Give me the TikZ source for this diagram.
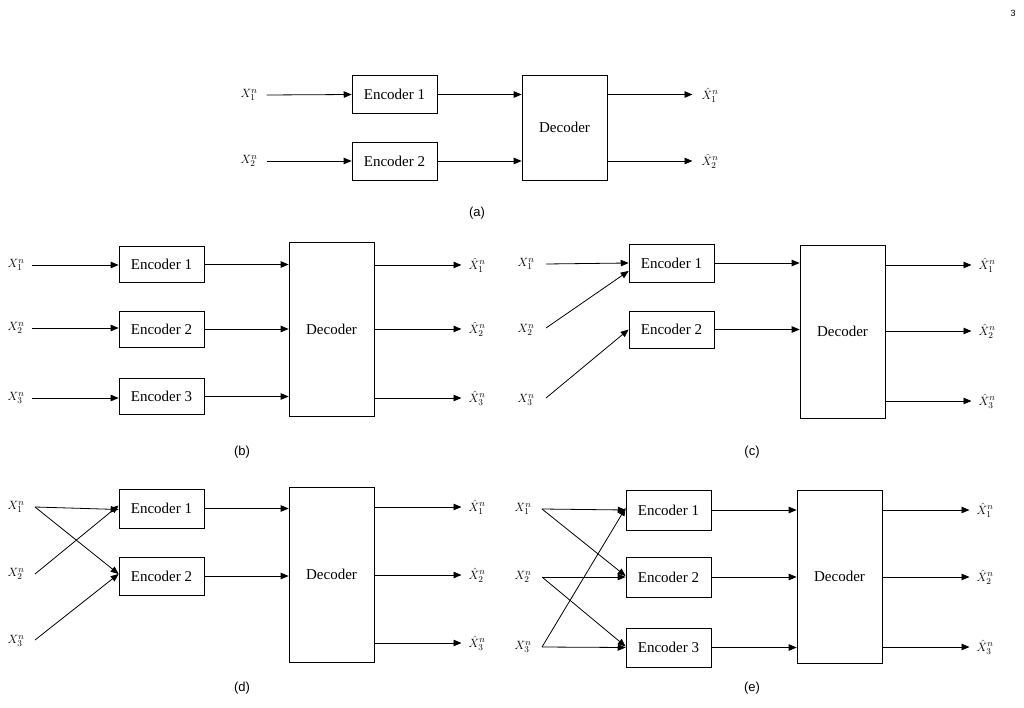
\documentclass[tikz,border=0pt]{standalone}
\usepackage{fontspec}
\setmainfont{Liberation Serif}
\setsansfont{Liberation Sans}
\usetikzlibrary{arrows}
\begin{document}
\begin{tikzpicture}[x=1pt,y=-1pt,>=triangle 45]
\tikzstyle{block}=[draw,thick,minimum width=85pt,minimum height=38pt,inner sep=0pt,font=\fontsize{15}{17}\selectfont]
\tikzstyle{dec}=[draw,thick,minimum width=85pt,inner sep=0pt,font=\fontsize{15}{17}\selectfont]
\tikzstyle{lab}=[inner sep=1pt,font=\fontsize{13}{15}\selectfont]
\tikzstyle{subcap}=[font=\sffamily\fontsize{13}{15}\selectfont]
\tikzstyle{conn}=[->,thick]
\useasboundingbox (0,0) rectangle (1024,708);
\node[font=\sffamily\fontsize{9}{10}\selectfont] (pg) at (1013,13) {3};
% (a)
\node[lab] (ax1) at (249,95) {$X_1^n$};
\node[lab] (ax2) at (249,161) {$X_2^n$};
\node[block] (ae1) at (394.5,94.5) {Encoder 1};
\node[block] (ae2) at (394.5,161) {Encoder 2};
\node[dec,minimum height=105pt] (ad) at (564.5,127.5) {Decoder};
\node[lab] (ay1) at (710,95) {$\hat{X}_1^n$};
\node[lab] (ay2) at (710,161) {$\hat{X}_2^n$};
\draw[conn] (ax1.east)+(8,0) -- (ae1.west);
\draw[conn] (ax2.east)+(8,0) -- (ae2.west);
\draw[conn] (ae1.east) -- (ae1.east -| ad.west);
\draw[conn] (ae2.east) -- (ae2.east -| ad.west);
\draw[conn] (ae1.east -| ad.east) -- ([xshift=-8pt]ae1.east -| ay1.west);
\draw[conn] (ae2.east -| ad.east) -- ([xshift=-8pt]ae2.east -| ay2.west);
\node[subcap] (acap) at (477,213) {(a)};
% (b)
\node[lab] (bx1) at (16,265) {$X_1^n$};
\node[lab] (bx2) at (16,328) {$X_2^n$};
\node[lab] (bx3) at (16,398) {$X_3^n$};
\node[block,minimum height=36pt] (be1) at (161.5,264.5) {Encoder 1};
\node[block,minimum height=36pt] (be2) at (161.5,329) {Encoder 2};
\node[block,minimum height=36pt] (be3) at (161.5,396.5) {Encoder 3};
\node[dec,minimum height=174pt] (bd) at (331.5,329) {Decoder};
\node[lab] (by1) at (477,265) {$\hat{X}_1^n$};
\node[lab] (by2) at (477,329) {$\hat{X}_2^n$};
\node[lab] (by3) at (477,398) {$\hat{X}_3^n$};
\foreach \i in {1,2,3} {
  \draw[conn] (bx\i.east)+(6,0) -- (bx\i.east -| be\i.west);
  \draw[conn] (be\i.east) -- (be\i.east -| bd.west);
  \draw[conn] (by\i.west -| bd.east) -- ([xshift=-6pt]by\i.west);
}
\node[subcap] (bcap) at (242,452) {(b)};
% (c)
\node[lab] (cx1) at (526,264) {$X_1^n$};
\node[lab] (cx2) at (526,330) {$X_2^n$};
\node[lab] (cx3) at (526,400) {$X_3^n$};
\node[block] (ce1) at (671.5,263) {Encoder 1};
\node[block,minimum height=37pt] (ce2) at (671.5,329.5) {Encoder 2};
\node[dec,minimum height=173pt] (cd) at (842.5,331.5) {Decoder};
\node[lab] (cy1) at (987,265) {$\hat{X}_1^n$};
\node[lab] (cy2) at (987,331) {$\hat{X}_2^n$};
\node[lab] (cy3) at (987,401) {$\hat{X}_3^n$};
\coordinate (cs1) at (546,264);
\coordinate (cs2) at (546,328);
\coordinate (cs3) at (546,398);
\draw[conn] (cs1) -- (ce1.west);
\draw[conn] (cs2) -- ([yshift=-8pt]ce1.west);
\draw[conn] (cs3) -- (ce2.west);
\draw[conn] (ce1.east) -- (ce1.east -| cd.west);
\draw[conn] (ce2.east) -- (ce2.east -| cd.west);
\foreach \i in {1,2,3}
  \draw[conn] (cy\i.west -| cd.east) -- ([xshift=-6pt]cy\i.west);
\node[subcap] (ccap) at (752,452) {(c)};
% (d)
\node[lab] (dx1) at (16,507) {$X_1^n$};
\node[lab] (dx2) at (16,574) {$X_2^n$};
\node[lab] (dx3) at (16,641) {$X_3^n$};
\node[block,minimum height=39pt] (de1) at (161.5,508.5) {Encoder 1};
\node[block] (de2) at (161.5,576) {Encoder 2};
\node[dec,minimum height=175pt] (dd) at (331.5,574.5) {Decoder};
\node[lab] (dy1) at (477,507) {$\hat{X}_1^n$};
\node[lab] (dy2) at (477,575) {$\hat{X}_2^n$};
\node[lab] (dy3) at (477,643) {$\hat{X}_3^n$};
\coordinate (ds1) at (35,507);
\coordinate (ds2) at (35,574);
\coordinate (ds3) at (35,640);
\draw[conn] (ds1) -- ([yshift=-1pt]de1.west);
\draw[conn] (ds1) -- ([yshift=2pt]de2.west);
\draw[conn] (ds2) -- ([yshift=3pt]de1.west);
\draw[conn] (ds3) -- ([yshift=2pt]de2.west);
\draw[conn] (de1.east) -- (de1.east -| dd.west);
\draw[conn] (de2.east) -- (de2.east -| dd.west);
\foreach \i in {1,2,3}
  \draw[conn] (dy\i.west -| dd.east) -- ([xshift=-6pt]dy\i.west);
\node[subcap] (dcap) at (242,688) {(d)};
% (e)
\node[lab] (ex1) at (523,509) {$X_1^n$};
\node[lab] (ex2) at (523,577) {$X_2^n$};
\node[lab] (ex3) at (523,647) {$X_3^n$};
\node[block,minimum height=40pt] (ee1) at (668.5,510) {Encoder 1};
\node[block,minimum height=40pt] (ee2) at (668.5,577) {Encoder 2};
\node[block,minimum height=39pt] (ee3) at (668.5,647.5) {Encoder 3};
\node[dec,minimum height=173pt] (ed) at (839.5,576.5) {Decoder};
\node[lab] (ey1) at (985,510) {$\hat{X}_1^n$};
\node[lab] (ey2) at (985,577) {$\hat{X}_2^n$};
\node[lab] (ey3) at (985,647) {$\hat{X}_3^n$};
\coordinate (es1) at (542,509);
\coordinate (es2) at (542,577);
\coordinate (es3) at (542,647);
\draw[conn] (es1) -- (ee1.west);
\draw[conn] (es1) -- ([yshift=1pt]ee2.west);
\draw[conn] (es2) -- (ee2.west);
\draw[conn] (es2) -- ([yshift=1pt]ee3.west);
\draw[conn] (es3) -- (ee3.west);
\draw[conn] (es3) -- ([yshift=2pt]ee1.west);
\foreach \i in {1,2,3} {
  \draw[conn] (ee\i.east) -- (ee\i.east -| ed.west);
  \draw[conn] (ey\i.west -| ed.east) -- ([xshift=-6pt]ey\i.west);
}
\node[subcap] (ecap) at (752,688) {(e)};
\end{tikzpicture}
\end{document}
